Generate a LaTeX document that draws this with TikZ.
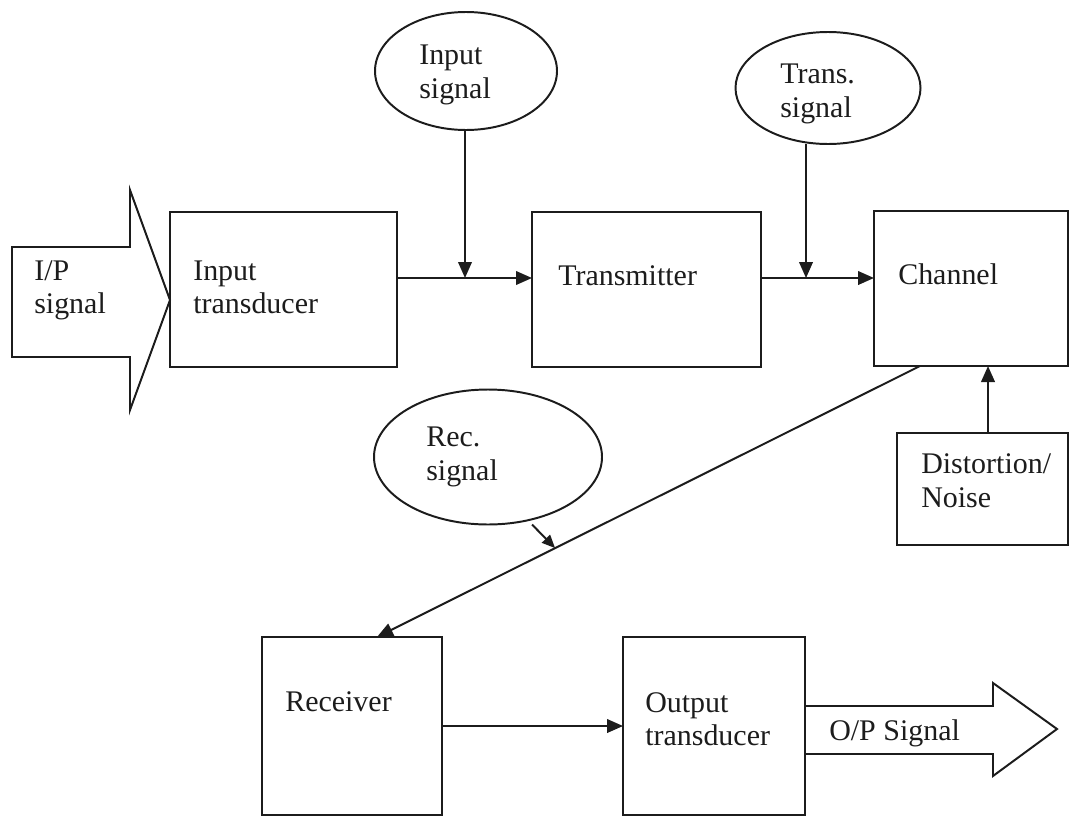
\documentclass[tikz,border=0pt]{standalone}
\usepackage{fontspec}
\setmainfont{Liberation Serif}
\usetikzlibrary{shapes.geometric, arrows.meta, calc}
\definecolor{ink}{HTML}{1C1C1C}
\begin{document}
\begin{tikzpicture}[x=0.025cm, y=-0.025cm,
  ln/.style={line width=1.4pt, draw=ink, line join=miter},
  box/.style={ln, rectangle, inner sep=0pt, outer sep=0pt, anchor=north west},
  oval/.style={ln, ellipse, inner sep=0pt, outer sep=0pt},
  lbl/.style={font=\fontsize{21.3}{24.2}\selectfont, text=ink, inner sep=0pt, anchor=base west},
  arr/.style={ln, -{Triangle[length=0.4cm, width=0.34cm]}},
  arrsmall/.style={ln, -{Triangle[length=0.33cm, width=0.28cm]}}
]
\useasboundingbox (0,0) rectangle (1071,816);

% big input arrow
\draw[ln] (12,247) -- (130,247) -- (130,190) -- (170,300) -- (130,410) -- (130,357) -- (12,357) -- cycle;
\node[lbl] (ip1) at (34,280) {I/P};
\node[lbl] (ip2) at (34,313) {signal};

% boxes
\node[box, minimum width=227*0.025cm, minimum height=155*0.025cm] (itx) at (170,212) {};
\node[box, minimum width=229*0.025cm, minimum height=155*0.025cm] (tx) at (532,212) {};
\node[box, minimum width=194*0.025cm, minimum height=155*0.025cm] (ch) at (874,211) {};
\node[box, minimum width=171*0.025cm, minimum height=112*0.025cm] (dn) at (897,433) {};
\node[box, minimum width=180*0.025cm, minimum height=178*0.025cm] (rx) at (262,637) {};
\node[box, minimum width=182*0.025cm, minimum height=178*0.025cm] (ot) at (623,637) {};

% ellipses
\node[oval, minimum width=182*0.025cm, minimum height=118*0.025cm] (insig) at (466,71) {};
\node[oval, minimum width=185*0.025cm, minimum height=112*0.025cm] (tsig) at (828,88) {};
\node[oval, minimum width=228*0.025cm, minimum height=135*0.025cm] (rsig) at (488,457) {};

% labels
\node[lbl] (it1) at (193,280) {Input};
\node[lbl] (it2) at (193,313) {transducer};
\node[lbl] (txl) at (558,285) {Transmitter};
\node[lbl] (chl) at (898,284) {Channel};
\node[lbl] (dn1) at (921,473) {Distortion/};
\node[lbl] (dn2) at (921,507) {Noise};
\node[lbl] (rxl) at (285,711) {Receiver};
\node[lbl] (ot1) at (645,712) {Output};
\node[lbl] (ot2) at (645,745) {transducer};
\node[lbl] (is1) at (419,64) {Input};
\node[lbl] (is2) at (419,98) {signal};
\node[lbl] (ts1) at (780,83) {Trans.};
\node[lbl] (ts2) at (780,117) {signal};
\node[lbl] (rs1) at (426,446) {Rec.};
\node[lbl] (rs2) at (426,480) {signal};

% connectors
\coordinate (j1) at (465,278);
\coordinate (j2) at (806,278);
\draw[arr] (itx.east |- j1) -- (tx.west |- j1);
\draw[arr] (insig.south -| j1) -- (j1);
\draw[arr] (tx.east |- j2) -- (ch.west |- j2);
\draw[arr] (tsig.south -| j2) -- (j2);

\coordinate (c1) at ($(ch.south west)+(46,0)$);
\coordinate (r1) at ($(rx.north west)+(115,0)$);
\draw[arr] (c1) -- (r1);
\coordinate (m1) at ($(c1)!0.672!(r1)$);
\draw[arrsmall] ($(rsig.south)+(44,0)$) -- (m1);

\coordinate (k) at (988,0);
\draw[arr] (dn.north -| k) -- (ch.south -| k);

\draw[arr] (rx.east) -- (ot.west);

% output arrow
\draw[ln] ($(ot.east)+(0,-20)$) -- (993,706) -- (993,683) -- (1057,729) -- (993,776) -- (993,754) -- ($(ot.east)+(0,28)$);
\node[lbl] (opl) at (829,740) {O/P Signal};
\end{tikzpicture}
\end{document}
